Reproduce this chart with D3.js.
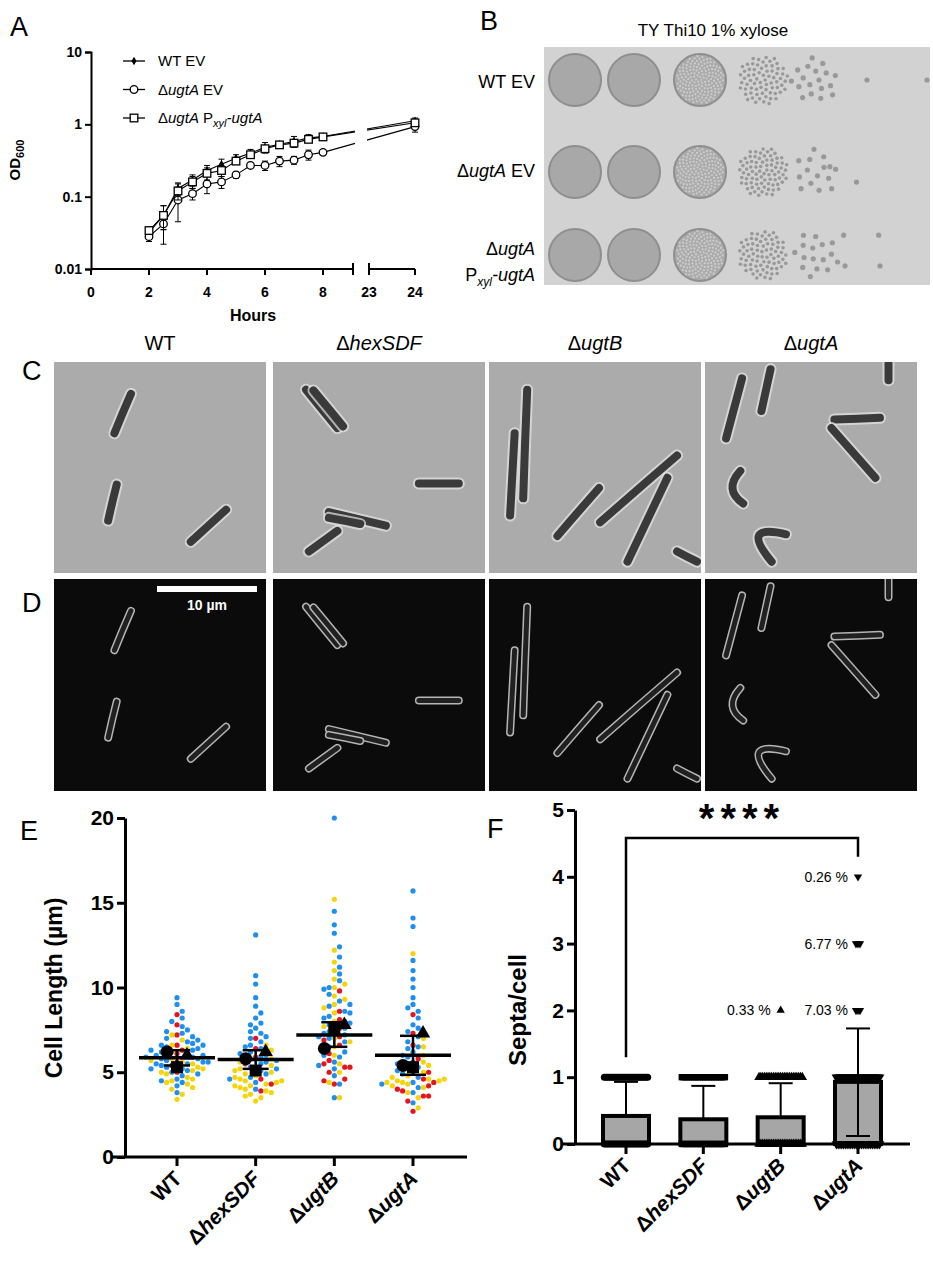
<!DOCTYPE html>
<html>
<head>
<meta charset="utf-8">
<script src="https://cdn.jsdelivr.net/npm/d3@7"></script>
<style>
  body { margin: 0; background: #fff; }
  svg { font-family: "Liberation Sans", Arial, sans-serif; }
</style>
</head>
<body>
<svg width="933" height="1280"></svg>
<script>
// ---------- data ----------
// panel A: growth curves
var hours = [2, 2.5, 3, 3.5, 4, 4.5, 5, 5.5, 6, 6.5, 7, 7.5, 8, 24];
var odWT   = [0.032, 0.055, 0.13, 0.17, 0.23, 0.28, 0.34, 0.40, 0.48, 0.53, 0.58, 0.65, 0.68, 1.12];
var odKO   = [0.028, 0.042, 0.09, 0.11, 0.15, 0.16, 0.20, 0.27, 0.27, 0.31, 0.32, 0.38, 0.41, 0.93];
var odComp = [0.034, 0.055, 0.12, 0.16, 0.21, 0.23, 0.31, 0.38, 0.46, 0.52, 0.55, 0.62, 0.67, 1.05];
var errWT   = [0.004, 0.02, 0.025, 0.03, 0.04, 0.05, 0.04, 0.05, 0.08, 0.05, 0.1, 0.07, 0.05, 0.1];
var errKO   = [0.004, 0.02, 0.045, 0.02, 0.04, 0.03, 0.02, 0.02, 0.04, 0.05, 0.04, 0.06, 0.03, 0.15];
var errComp = [0.004, 0.02, 0.03, 0.03, 0.04, 0.04, 0.03, 0.04, 0.05, 0.04, 0.06, 0.06, 0.04, 0.1];
var xTicksA = [0, 2, 4, 6, 8];
var yTicksA = [0.01, 0.1, 1, 10];

// panel B: spot dilutions (colony counts per spot, -1 = confluent lawn)
var spotRows = ["WT EV", "ΔugtA EV", "ΔugtA Pxyl-ugtA"];
var spotCounts = [
  [-1, -1, -1, 70, 18, 1, 0, 1],
  [-1, -1, -1, 80, 14, 2, 0, 0],
  [-1, -1, -1, 75, 16, 2, 2, 0]
];

// panels C/D: strains and traced cell outlines (normalised to image, quadratic paths)
var strains = ["WT", "ΔhexSDF", "ΔugtB", "ΔugtA"];
var cells = [
  [[135,93,120,150,106,208], [110,358,102,410,95,463], [302,431,271,478,240,525]],
  [[58,81,85,137,113,193], [71,83,97,135,123,188], [256,355,291,355,326,355], [98,438,148,458,198,478], [98,455,125,463,153,473], [113,493,88,523,63,553]],
  [[67,81,63,240,60,398], [45,208,41,328,37,448], [193,368,156,438,120,508], [330,273,262,370,195,468], [313,338,278,460,243,583], [330,553,347,568,365,583]],
  [[65,48,51,135,37,223], [115,21,107,82,99,143], [227,168,267,166,307,163], [222,193,260,265,299,338], [322,3,322,28,322,53], [62,318,32,373,67,413], [142,503,60,470,117,583]]
];

// panel E: cell lengths per replicate colour
var colBlue = "#1f8ef1", colYellow = "#f5d40c", colRed = "#e8141c";
var lenBlue = [
  [4.2,4.4,4.6,4.8,5.0,5.1,5.2,5.3,5.4,5.5,5.5,5.6,5.7,5.8,5.8,5.9,6.0,6.1,6.2,6.3,6.4,6.5,6.6,6.7,6.8,7.0,7.1,7.3,7.5,7.7,8.0,8.2,8.6,9.0,9.4,3.8,4.9,5.6,6.0,6.3,6.9,5.2,5.9,6.6,7.4,4.5],
  [4.0,4.4,4.7,4.9,5.1,5.3,5.5,5.6,5.8,5.9,6.0,6.2,6.4,6.6,6.8,7.0,7.3,7.6,7.9,8.2,8.5,8.9,9.4,10.2,10.7,13.1,5.2,6.1,7.1,7.8,5.7,6.5,7.4,4.6],
  [3.5,4.3,4.8,5.2,5.6,5.9,6.2,6.5,6.8,7.0,7.2,7.4,7.6,7.8,8.0,8.3,8.6,8.9,9.2,9.6,10.0,10.4,10.8,11.2,11.8,12.4,13.2,13.7,14.5,20.0,6.0,7.1,7.9,8.5,9.9,6.4,7.3,8.2,9.0,5.4],
  [3.2,3.8,4.1,4.4,4.7,5.0,5.3,5.6,5.9,6.2,6.5,6.8,7.1,7.4,7.8,8.2,8.6,9.0,9.4,10.0,10.5,11.0,11.6,13.6,14.1,15.7,5.1,6.0,7.6,4.3,4.9,5.5,6.4,8.8]
];
var lenYellow = [
  [3.4,3.7,4.0,4.3,4.5,4.7,4.9,5.1,5.3,5.5,5.6,5.8,6.0,6.2,6.4,6.6,6.9,7.2,4.4,5.0,5.7,4.1,4.6,5.2],
  [3.3,3.5,3.7,3.9,4.0,4.2,4.3,4.5,4.6,4.8,4.9,5.0,5.2,5.4,5.6,5.8,6.0,6.3,6.6,3.6,4.1,4.4,4.7,3.8,4.2,4.5,5.1],
  [3.5,4.4,5.0,5.5,6.0,6.5,7.0,7.5,8.0,8.5,9.0,9.5,10.0,10.5,11.0,11.5,12.2,15.2,6.8,7.7,8.8,9.3,10.2],
  [2.9,3.5,3.8,4.1,4.3,4.4,4.5,4.6,4.8,5.0,5.3,5.6,6.0,6.5,7.0,12.0,4.2,4.7,5.4,4.4,4.5,4.6]
];
var lenRed = [
  [5.0,5.6,6.1,6.6,7.2,7.8,8.4,5.4,6.3],
  [3.9,4.6,5.2,5.9,6.4,7.0,4.3,5.5],
  [4.3,4.6,5.0,5.3,5.7,6.1,6.6,7.1,7.6,8.1,8.6,9.8,5.5,6.9,5.3,4.5],
  [2.7,3.3,3.6,3.9,4.2,4.6,5.2,5.8,6.6,7.3,8.4,4.0,5.0,3.6,4.4]
];
var lenMean = [5.85, 5.75, 7.2, 6.0];
var lenSdLo = [5.4, 5.2, 6.5, 4.85];
var lenSdHi = [6.3, 6.3, 7.95, 7.15];
var repCircle = [6.2, 5.8, 6.4, 5.4];
var repSquare = [5.3, 5.1, 7.6, 5.3];
var repTri    = [6.0, 6.2, 7.8, 7.3];

// panel F: septa per cell
var septaMean = [0.42, 0.37, 0.40, 0.93];
var septaSdHi = [0.93, 0.87, 0.91, 1.73];
var septaSdLo = [null, null, null, 0.12];
var septaShape = ["circle", "square", "triangle", "triangleDown"];
var septaOutliers = [[], [], [{v: 2, label: "0.33 %"}], [{v: 2, label: "7.03 %"}, {v: 3, label: "6.77 %"}, {v: 4, label: "0.26 %"}]];

var svg = d3.select("svg");

function geneLabel(sel, txt) {
  // "ΔugtA" -> Δ + italic gene
  if (txt[0] === "Δ") {
    sel.append("tspan").text("Δ");
    sel.append("tspan").attr("font-style", "italic").text(txt.slice(1));
  } else sel.append("tspan").text(txt);
}

function panelLetter(x, y, t) {
  svg.append("text").attr("x", x).attr("y", y).attr("font-size", 27).text(t);
}

// ---------- panel A ----------
(function () {
  var g = svg.append("g");
  panelLetter(10, 36, "A");
  var y = d3.scaleLog().domain([0.01, 10]).range([269, 52]);
  var x1 = d3.scaleLinear().domain([0, 8]).range([91, 323]);
  var x2 = d3.scaleLinear().domain([23, 24]).range([369, 415]);
  function xx(h) { return h <= 9 ? x1(h) : x2(h); }

  g.append("g").attr("transform", "translate(91,0)")
    .call(d3.axisLeft(y).tickValues(yTicksA).tickFormat(d3.format("~g")).tickSizeOuter(0).tickSize(6))
    .call(function (a) { a.select(".domain").attr("stroke-width", 2); a.selectAll(".tick line").attr("stroke-width", 2); a.selectAll("text").attr("font-size", 14).attr("font-weight", "bold").attr("font-family", "Liberation Sans, Arial"); });
  g.append("line").attr("x1", 91).attr("x2", 353).attr("y1", 269).attr("y2", 269).attr("stroke", "#000").attr("stroke-width", 2);
  g.append("line").attr("x1", 369).attr("x2", 415).attr("y1", 269).attr("y2", 269).attr("stroke", "#000").attr("stroke-width", 2);
  [353, 369].forEach(function (px) { g.append("line").attr("x1", px).attr("x2", px).attr("y1", 263).attr("y2", 275).attr("stroke", "#000").attr("stroke-width", 2); });
  var xt = xTicksA.map(function (d) { return {l: d, p: x1(d)}; }).concat([{l: 23, p: x2(23)}, {l: 24, p: x2(24)}]);
  xt.forEach(function (t) {
    g.append("line").attr("x1", t.p).attr("x2", t.p).attr("y1", 269).attr("y2", 275).attr("stroke", "#000").attr("stroke-width", 2);
    g.append("text").attr("x", t.p).attr("y", 297).attr("text-anchor", "middle").attr("font-size", 14).attr("font-weight", "bold").text(t.l);
  });
  g.append("text").attr("x", 253).attr("y", 321).attr("text-anchor", "middle").attr("font-size", 16).attr("font-weight", "bold").text("Hours");
  var yl = g.append("text").attr("transform", "translate(20,160) rotate(-90)").attr("text-anchor", "middle").attr("font-size", 15).attr("font-weight", "bold");
  yl.append("tspan").text("OD");
  yl.append("tspan").attr("font-size", 11).attr("dy", 4).text("600");

  var series = [
    {v: odWT, e: errWT, m: "diamond"},
    {v: odKO, e: errKO, m: "circle"},
    {v: odComp, e: errComp, m: "square"}
  ];
  var line = d3.line().x(function (d) { return xx(d.h); }).y(function (d) { return y(d.v); });
  series.forEach(function (s) {
    var pts = hours.map(function (h, i) { return {h: h, v: s.v[i], e: s.e[i]}; });
    g.append("path").datum(pts).attr("d", line).attr("fill", "none").attr("stroke", "#000").attr("stroke-width", 1.1);
    pts.forEach(function (p) {
      var cx = xx(p.h);
      g.append("line").attr("x1", cx).attr("x2", cx).attr("y1", y(p.v + p.e)).attr("y2", y(Math.max(p.v - p.e, 0.011))).attr("stroke", "#000");
      [p.v + p.e, Math.max(p.v - p.e, 0.011)].forEach(function (vv) {
        g.append("line").attr("x1", cx - 3).attr("x2", cx + 3).attr("y1", y(vv)).attr("y2", y(vv)).attr("stroke", "#000");
      });
    });
    drawMarkerA(g, pts.map(function (p) { return [xx(p.h), y(p.v)]; }), s.m);
  });
  // break gap
  g.append("rect").attr("x", 355).attr("y", 90).attr("width", 12).attr("height", 60).attr("fill", "#fff");

  var leg = [{t: "WT EV", m: "diamond"}, {t: "ΔugtA EV", m: "circle"}, {t: "ΔugtA Pxyl-ugtA", m: "square"}];
  leg.forEach(function (l, i) {
    var ly = 61 + i * 28.5;
    g.append("line").attr("x1", 123).attr("x2", 145).attr("y1", ly).attr("y2", ly).attr("stroke", "#000").attr("stroke-width", 1.3);
    drawMarkerA(g, [[134, ly]], l.m);
    var t = g.append("text").attr("x", 158).attr("y", ly + 5).attr("font-size", 15);
    if (i === 0) t.text("WT EV");
    else if (i === 1) { geneLabel(t, "ΔugtA"); t.append("tspan").text(" EV"); }
    else {
      geneLabel(t, "ΔugtA"); t.append("tspan").text(" P");
      t.append("tspan").attr("font-size", 11).attr("dy", 4).attr("font-style", "italic").text("xyl");
      t.append("tspan").attr("dy", -4).attr("font-style", "italic").text("-ugtA");
    }
  });

  function drawMarkerA(gg, pts, m) {
    pts.forEach(function (p) {
      if (m === "diamond") gg.append("path").attr("d", d3.symbol(d3.symbolDiamond, 22)()).attr("transform", "translate(" + p + ")").attr("fill", "#000");
      else if (m === "circle") gg.append("circle").attr("cx", p[0]).attr("cy", p[1]).attr("r", 3.8).attr("fill", "#fff").attr("stroke", "#000").attr("stroke-width", 1.3);
      else gg.append("rect").attr("x", p[0] - 3.8).attr("y", p[1] - 3.8).attr("width", 7.6).attr("height", 7.6).attr("fill", "#fff").attr("stroke", "#000").attr("stroke-width", 1.3);
    });
  }
})();

// ---------- panel B ----------
(function () {
  var g = svg.append("g");
  panelLetter(480, 30, "B");
  g.append("text").attr("x", 713).attr("y", 36).attr("text-anchor", "middle").attr("font-size", 17).text("TY Thi10 1% xylose");
  g.append("rect").attr("x", 544).attr("y", 47).attr("width", 386).attr("height", 238).attr("fill", "#d2d2d2");
  var rowY = [80, 172, 255];
  g.append("text").attr("x", 535).attr("y", 88).attr("text-anchor", "end").attr("font-size", 18).text("WT EV");
  var t1 = g.append("text").attr("x", 535).attr("y", 177).attr("text-anchor", "end").attr("font-size", 18);
  geneLabel(t1, "ΔugtA"); t1.append("tspan").text(" EV");
  var t2 = g.append("text").attr("x", 535).attr("y", 255).attr("text-anchor", "end").attr("font-size", 18);
  geneLabel(t2, "ΔugtA");
  var t3 = g.append("text").attr("x", 535).attr("y", 281).attr("text-anchor", "end").attr("font-size", 18);
  t3.append("tspan").text("P"); t3.append("tspan").attr("font-size", 12).attr("dy", 5).attr("font-style", "italic").text("xyl");
  t3.append("tspan").attr("dy", -5).attr("font-style", "italic").text("-ugtA");

  var golden = Math.PI * (3 - Math.sqrt(5));
  spotCounts.forEach(function (row, r) {
    row.forEach(function (c, k) {
      var cx = [575, 634, 700, 763, 815, 850, 885, 910][k], cy = rowY[r];
      if (c < 0) {
        g.append("circle").attr("cx", cx).attr("cy", cy).attr("r", 26).attr("fill", k < 2 ? "#a8a8a8" : "#ababab").attr("stroke", "#8e8e8e").attr("stroke-width", 2);
        if (k === 2) {
          for (var j = 0; j < 160; j++) {
            var rr = 24 * Math.sqrt((j + 0.5) / 160), a = j * golden;
            g.append("circle").attr("cx", cx + rr * Math.cos(a)).attr("cy", cy + rr * Math.sin(a)).attr("r", 1.1).attr("fill", "#cdcdcd");
          }
        }
      } else {
        for (var i = 0; i < c; i++) {
          var rad = (c > 30 ? 25 : 24) * Math.sqrt((i + 0.5) / c), ang = i * golden + r;
          g.append("circle").attr("cx", cx + rad * Math.cos(ang)).attr("cy", cy + rad * Math.sin(ang)).attr("r", c > 30 ? 1.8 : 2.6).attr("fill", "#999");
        }
      }
    });
  });
})();

// ---------- panels C and D ----------
(function () {
  var g = svg.append("g");
  panelLetter(22, 380, "C");
  panelLetter(22, 612, "D");
  var colX = [54, 273, 489, 705], colW = 212;
  strains.forEach(function (s, i) {
    var t = g.append("text").attr("x", colX[i] + colW / 2).attr("y", 350).attr("text-anchor", "middle").attr("font-size", 20);
    geneLabel(t, s);
    var sx = colW / 372, sy = 211 / 616;
    var pc = g.append("g").attr("transform", "translate(" + colX[i] + ",362)");
    pc.append("rect").attr("width", colW).attr("height", 211).attr("fill", "#ababab");
    var fl = g.append("g").attr("transform", "translate(" + colX[i] + ",579)");
    fl.append("rect").attr("width", colW).attr("height", 212).attr("fill", "#0b0b0b");
    var clipId = "clip" + i;
    g.append("clipPath").attr("id", clipId).append("rect").attr("width", colW).attr("height", 212);
    pc.attr("clip-path", "url(#" + clipId + ")");
    fl.attr("clip-path", "url(#" + clipId + ")");
    cells[i].forEach(function (c) {
      var d = "M" + c[0] * sx + "," + c[1] * sy + " Q" + c[2] * sx + "," + c[3] * sy + " " + c[4] * sx + "," + c[5] * sy;
      pc.append("path").attr("d", d).attr("fill", "none").attr("stroke", "#e6e6e6").attr("stroke-width", 12).attr("stroke-linecap", "round").attr("opacity", 0.7);
      pc.append("path").attr("d", d).attr("fill", "none").attr("stroke", "#3a3a3a").attr("stroke-width", 8).attr("stroke-linecap", "round");
      fl.append("path").attr("d", d).attr("fill", "none").attr("stroke", "#b5b5b5").attr("stroke-width", 8).attr("stroke-linecap", "round");
      fl.append("path").attr("d", d).attr("fill", "none").attr("stroke", "#202020").attr("stroke-width", 5).attr("stroke-linecap", "round");
    });
  });
  g.append("rect").attr("x", 157).attr("y", 586).attr("width", 100).attr("height", 6).attr("fill", "#fff");
  g.append("text").attr("x", 207).attr("y", 610).attr("text-anchor", "middle").attr("font-size", 14).attr("font-weight", "bold").attr("fill", "#fff").text("10 µm");
})();

// ---------- panel E ----------
(function () {
  var g = svg.append("g");
  panelLetter(20, 840, "E");
  var y = d3.scaleLinear().domain([0, 20]).range([1157, 818]);
  var x = d3.scalePoint().domain(strains).range([177, 413]);
  g.append("g").attr("transform", "translate(125,0)")
    .call(d3.axisLeft(y).tickValues([0, 5, 10, 15, 20]).tickSize(8).tickSizeOuter(0))
    .call(function (a) { a.select(".domain").attr("stroke-width", 3); a.selectAll(".tick line").attr("stroke-width", 3); a.selectAll("text").attr("font-size", 21).attr("font-weight", "bold").attr("font-family", "Liberation Sans, Arial"); });
  g.append("line").attr("x1", 111).attr("x2", 467).attr("y1", 1157).attr("y2", 1157).attr("stroke", "#000").attr("stroke-width", 3);
  g.append("text").attr("transform", "translate(62,988) rotate(-90)").attr("text-anchor", "middle").attr("font-size", 23).attr("font-weight", "bold").text("Cell Length (µm)");

  strains.forEach(function (s, i) {
    var cx = x(s);
    g.append("line").attr("x1", cx).attr("x2", cx).attr("y1", 1157).attr("y2", 1166).attr("stroke", "#000").attr("stroke-width", 3);
    var t = g.append("text").attr("transform", "translate(" + (cx + 6) + ",1180) rotate(-45)").attr("text-anchor", "end").attr("font-size", 21).attr("font-weight", "bold");
    geneLabel(t, s);

    // interleave colours
    var pts = [], lists = [[lenBlue[i], colBlue], [lenYellow[i], colYellow], [lenRed[i], colRed]];
    var n = d3.max(lists, function (l) { return l[0].length; });
    for (var k = 0; k < n; k++) lists.forEach(function (l) { if (k < l[0].length) pts.push({v: l[0][k], c: l[1]}); });
    var placed = [], r = 2.6, step = 5.2;
    pts.forEach(function (p) {
      var py = y(p.v), off = 0;
      for (var j = 0; j < 40; j++) {
        off = (j % 2 ? 1 : -1) * Math.ceil(j / 2) * step;
        var ok = placed.every(function (q) { return (q.x - off) * (q.x - off) + (q.y - py) * (q.y - py) >= (2 * r) * (2 * r); });
        if (ok) break;
      }
      placed.push({x: off, y: py, c: p.c});
    });
    g.selectAll(null).data(placed).enter().append("circle")
      .attr("cx", function (d) { return cx + d.x; }).attr("cy", function (d) { return d.y; })
      .attr("r", r).attr("fill", function (d) { return d.c; });

    g.append("line").attr("x1", cx - 38).attr("x2", cx + 38).attr("y1", y(lenMean[i])).attr("y2", y(lenMean[i])).attr("stroke", "#000").attr("stroke-width", 3.5);
    g.append("line").attr("x1", cx).attr("x2", cx).attr("y1", y(lenSdLo[i])).attr("y2", y(lenSdHi[i])).attr("stroke", "#000").attr("stroke-width", 2.5);
    [lenSdLo[i], lenSdHi[i]].forEach(function (v) {
      g.append("line").attr("x1", cx - 13).attr("x2", cx + 13).attr("y1", y(v)).attr("y2", y(v)).attr("stroke", "#000").attr("stroke-width", 2.5);
    });
    g.append("circle").attr("cx", cx - 10).attr("cy", y(repCircle[i])).attr("r", 6.5).attr("fill", "#000");
    g.append("rect").attr("x", cx - 6).attr("y", y(repSquare[i]) - 6).attr("width", 12).attr("height", 12).attr("fill", "#000");
    g.append("path").attr("d", d3.symbol(d3.symbolTriangle, 90)()).attr("transform", "translate(" + (cx + 10) + "," + y(repTri[i]) + ")").attr("fill", "#000");
  });
})();

// ---------- panel F ----------
(function () {
  var g = svg.append("g");
  panelLetter(487, 838, "F");
  var y = d3.scaleLinear().domain([0, 5]).range([1144, 810]);
  var x = d3.scalePoint().domain(strains).range([626, 858]);
  g.append("g").attr("transform", "translate(575,0)")
    .call(d3.axisLeft(y).ticks(5).tickSize(8).tickSizeOuter(0))
    .call(function (a) { a.select(".domain").attr("stroke-width", 3); a.selectAll(".tick line").attr("stroke-width", 3); a.selectAll("text").attr("font-size", 21).attr("font-weight", "bold").attr("font-family", "Liberation Sans, Arial"); });
  g.append("line").attr("x1", 561).attr("x2", 910).attr("y1", 1144).attr("y2", 1144).attr("stroke", "#000").attr("stroke-width", 3);
  g.append("text").attr("transform", "translate(526,1010) rotate(-90)").attr("text-anchor", "middle").attr("font-size", 24).attr("font-weight", "bold").text("Septa/cell");

  strains.forEach(function (s, i) {
    var cx = x(s);
    g.append("rect").attr("x", cx - 23).attr("y", y(septaMean[i])).attr("width", 46).attr("height", 1144 - y(septaMean[i]))
      .attr("fill", "#a6a6a6").attr("stroke", "#000").attr("stroke-width", 4);
    g.append("line").attr("x1", cx).attr("x2", cx).attr("y1", 1144).attr("y2", 1154).attr("stroke", "#000").attr("stroke-width", 3);
    var t = g.append("text").attr("transform", "translate(" + (cx + 6) + ",1167) rotate(-45)").attr("text-anchor", "end").attr("font-size", 21).attr("font-weight", "bold");
    geneLabel(t, s);
    var sym = {circle: d3.symbolCircle, square: d3.symbolSquare, triangle: d3.symbolTriangle, triangleDown: d3.symbolTriangle}[septaShape[i]];
    [0, 1].forEach(function (v) {
      for (var k = -12; k <= 12; k++) {
        g.append("path").attr("d", d3.symbol(sym, 40)())
          .attr("transform", "translate(" + (cx + k * 1.8) + "," + y(v) + ")" + (septaShape[i] === "triangleDown" ? " rotate(180)" : ""))
          .attr("fill", "#000");
      }
    });
    g.append("line").attr("x1", cx).attr("x2", cx).attr("y1", y(septaSdLo[i] == null ? septaMean[i] : septaSdLo[i])).attr("y2", y(septaSdHi[i])).attr("stroke", "#000").attr("stroke-width", 2);
    g.append("line").attr("x1", cx - 12).attr("x2", cx + 12).attr("y1", y(septaSdHi[i])).attr("y2", y(septaSdHi[i])).attr("stroke", "#000").attr("stroke-width", 2);
    if (septaSdLo[i] != null) g.append("line").attr("x1", cx - 12).attr("x2", cx + 12).attr("y1", y(septaSdLo[i])).attr("y2", y(septaSdLo[i])).attr("stroke", "#000").attr("stroke-width", 2);
    septaOutliers[i].forEach(function (o) {
      var down = septaShape[i] === "triangleDown";
      for (var k = -1; k <= 1; k++) {
        if (o.label === "0.26 %" || o.label === "0.33 %") { if (k) continue; }
        g.append("path").attr("d", d3.symbol(d3.symbolTriangle, 30)()).attr("transform", "translate(" + (cx + k * 2) + "," + y(o.v) + ")" + (down ? " rotate(180)" : "")).attr("fill", "#000");
      }
      g.append("text").attr("x", cx - 10).attr("y", y(o.v) + 5).attr("text-anchor", "end").attr("font-size", 14).text(o.label);
    });
  });
  g.append("path").attr("d", "M" + x("WT") + "," + y(1.3) + "V" + y(4.58) + "H" + x("ΔugtA") + "V" + y(4.3))
    .attr("fill", "none").attr("stroke", "#000").attr("stroke-width", 2.5);
  g.append("text").attr("x", 742).attr("y", 832).attr("text-anchor", "middle").attr("font-size", 40).attr("font-weight", "bold").attr("letter-spacing", 6).text("****");
})();
</script>
</body>
</html>
